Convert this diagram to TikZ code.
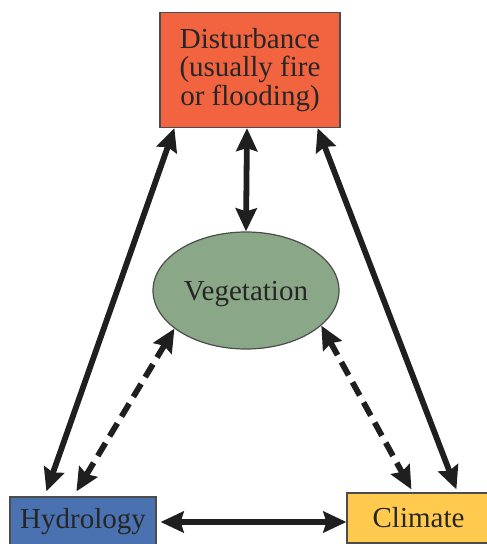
\documentclass[tikz,border=0pt]{standalone}
\usepackage{fontspec}
\setmainfont{Liberation Serif}
\usetikzlibrary{arrows.meta,shapes.geometric}
\definecolor{distred}{HTML}{F26440}
\definecolor{veggreen}{HTML}{8AA888}
\definecolor{hydblue}{HTML}{4A72B0}
\definecolor{climyellow}{HTML}{FFCA4D}

\begin{document}
\begin{tikzpicture}[x=0.5pt, y=-0.5pt,
  main/.style = {draw=black!70, line width=0.6pt, text=black!85, inner sep=0pt, align=center,
    font=\fontsize{14.5}{14.2}\selectfont},
  link/.style = {line width=2.9pt, draw=black!88,
    {Stealth[length=11.5pt,width=10.5pt,inset=1.5pt]}-{Stealth[length=11.5pt,width=10.5pt,inset=1.5pt]}},
  dlink/.style = {link, dash pattern=on 7.5pt off 4pt}]
		\useasboundingbox (0,0) rectangle (486,544);
		\node[main, fill=distred, minimum width=90pt, minimum height=57.5pt] (1) at (250,70) {Disturbance\\(usually fire\\or flooding)};
		\node[main, ellipse, fill=veggreen, minimum width=93pt, minimum height=58.5pt, text depth=0pt] (2) at (246,290.5) {Vegetation};
		\node[main, fill=hydblue, minimum width=73pt, minimum height=25pt] (3) at (83,522) {Hydrology};
		\node[main, fill=climyellow, minimum width=71.5pt, minimum height=25pt] (4) at (418.5,518) {Climate};
		\draw[link] ([xshift=-1.5pt]1.south) -- (2.north);
		\draw[link] ([xshift=7.5pt]1.south west) -- ([xshift=18.5pt,yshift=2.5pt]3.north west);
		\draw[link] ([xshift=-11.5pt]1.south east) -- ([xshift=55pt,yshift=1.5pt]4.north west);
		\draw[dlink] (2.208) -- ([xshift=33.5pt,yshift=2.5pt]3.north west);
		\draw[dlink] (2.335) -- ([xshift=32.5pt,yshift=1.5pt]4.north west);
		\draw[link, shorten <=2pt] (3.east) -- (3.east -| 4.west);
	\end{tikzpicture}
\end{document}
